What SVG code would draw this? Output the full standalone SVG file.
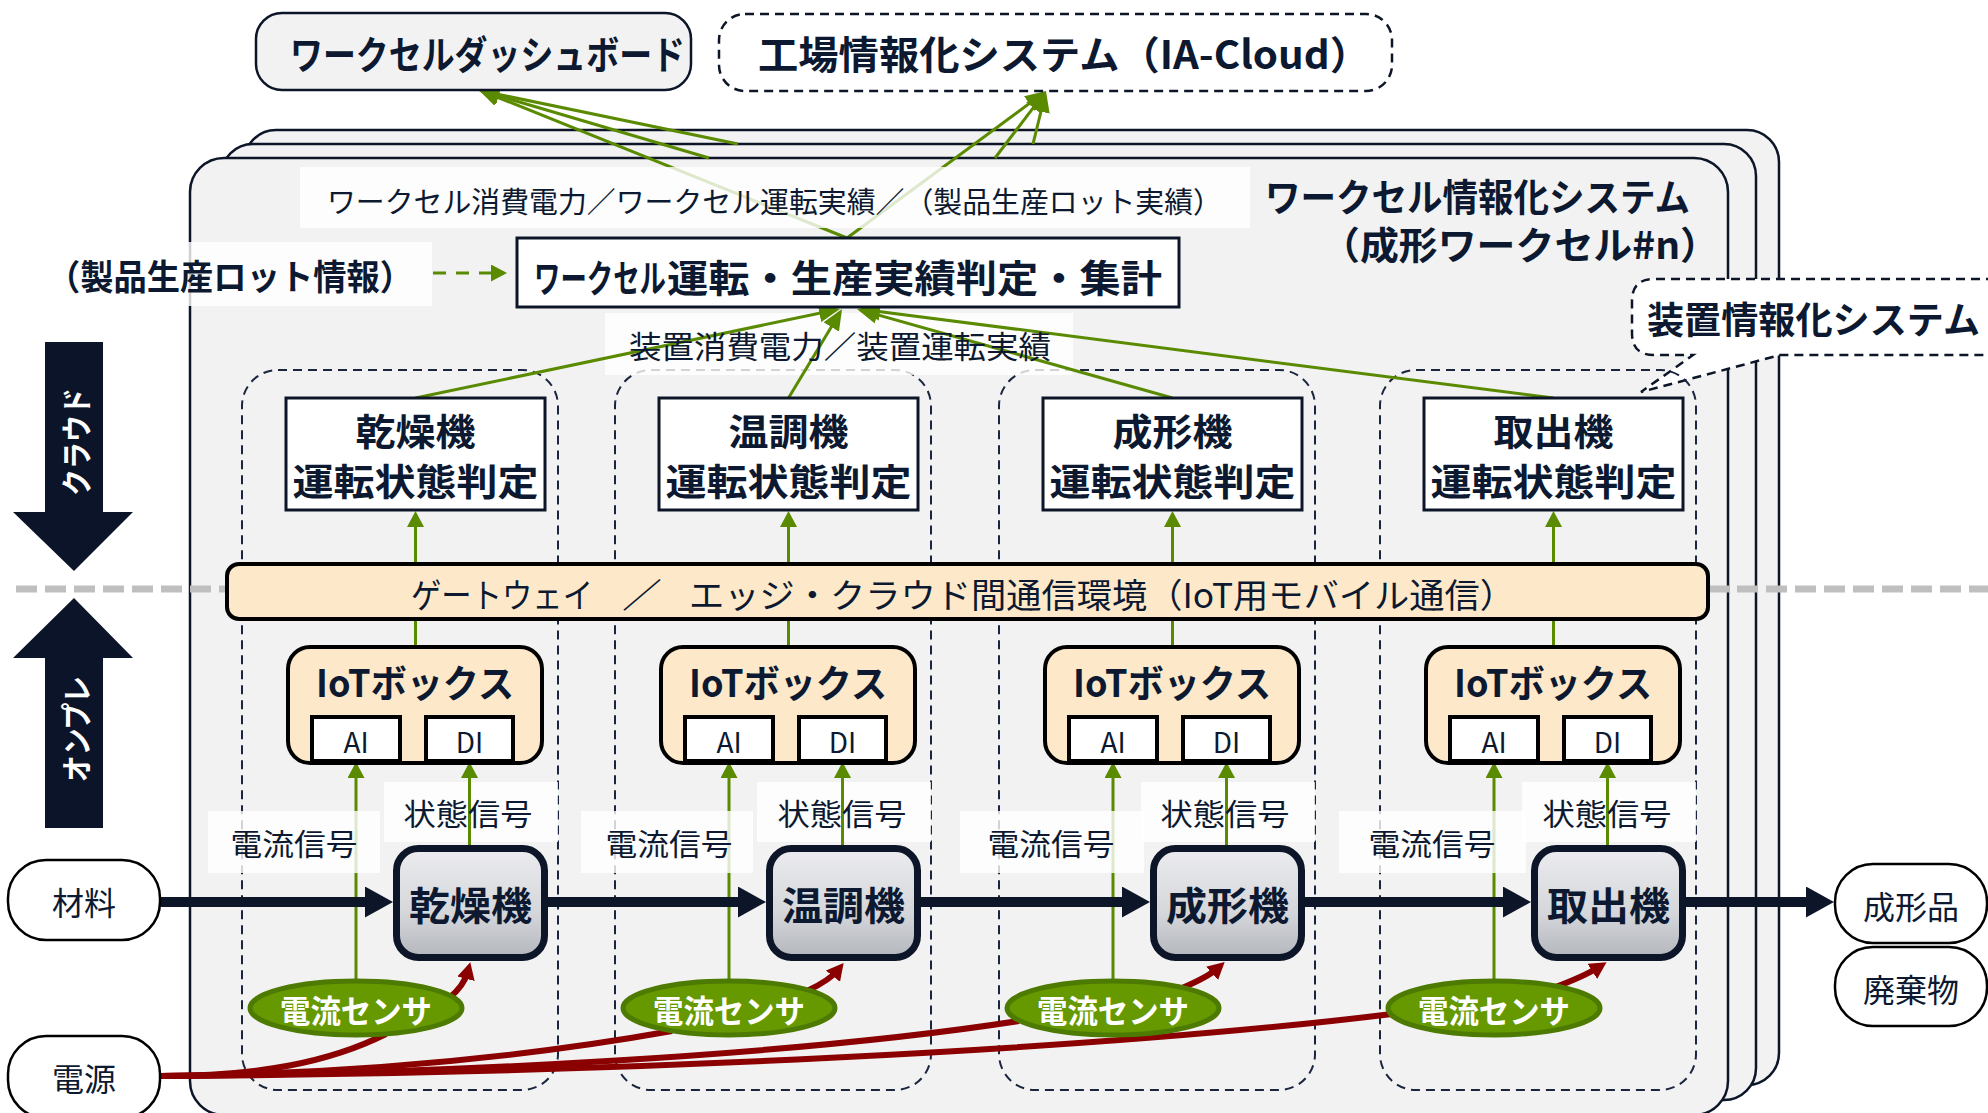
<svg xmlns="http://www.w3.org/2000/svg" width="1988" height="1113" viewBox="0 0 1988 1113">
<defs>
<style>
text{font-family:"Noto Sans CJK JP","Noto Sans",sans-serif;fill:#0c1930;text-anchor:middle;dominant-baseline:central}
.s{text-anchor:start}
.b{font-weight:700}
.panel{fill:#f2f2f2;stroke:#0c1628;stroke-width:2.5}
.grp{fill:none;stroke:#1a2540;stroke-width:2;stroke-dasharray:9 6}
.judge{fill:#fff;stroke:#0c1628;stroke-width:3}
.iot{fill:#fde9c9;stroke:#000;stroke-width:4}
.port{fill:#fff;stroke:#000;stroke-width:4}
.mach{fill:url(#gm);stroke:#0c1628;stroke-width:7}
.sens{fill:#669900;stroke:#4d7a00;stroke-width:5}
.pill{fill:#fff;stroke:#000;stroke-width:2.5}
.lbg{fill:#fff;opacity:.8}
.g{fill:none;stroke:#5a8a00;stroke-width:3}
.r{fill:none;stroke:#8b0000;stroke-width:6}
.f{fill:none;stroke:#0c1628;stroke-width:10}
.w{fill:#fff}
.div{stroke:#bfbfbf;stroke-width:7;stroke-dasharray:21 8}
</style>
<linearGradient id="gm" x1="0" y1="0" x2="0" y2="1">
<stop offset="0" stop-color="#ececf0"/><stop offset="0.6" stop-color="#d4d6da"/><stop offset="1" stop-color="#b3b6bc"/>
</linearGradient>
<marker id="aG" markerUnits="userSpaceOnUse" markerWidth="22" markerHeight="18" refX="17" refY="9" orient="auto"><path d="M0,0 L21,9 L0,18 z" fill="#5a8a00"/></marker>
<marker id="aGs" markerUnits="userSpaceOnUse" markerWidth="17" markerHeight="17" refX="13" refY="8.5" orient="auto"><path d="M0,0 L16,8.5 L0,17 z" fill="#5a8a00"/></marker>
<marker id="aR" markerUnits="userSpaceOnUse" markerWidth="18" markerHeight="18" refX="8" refY="9" orient="auto"><path d="M0,0 L17,9 L0,18 z" fill="#8b0000"/></marker>
<marker id="aF" markerUnits="userSpaceOnUse" markerWidth="29" markerHeight="31" refX="0" refY="15.5" orient="auto"><path d="M0,0 L28,15.5 L0,31 z" fill="#0c1628"/></marker>
</defs>
<rect width="1988" height="1113" fill="#fff"/>

<g id="panels">
<rect class="panel" x="244" y="130" width="1535" height="955" rx="32"/>
<rect class="panel" x="221" y="144" width="1535" height="956" rx="32"/>
<rect class="panel" x="190" y="158" width="1538" height="957" rx="34"/>
</g>

<g id="device-system-callout">
<path d="M1995,279 H1654 Q1632,279 1632,301 V333 Q1632,355 1654,355 H1693 L1641,392 L1780,355 H1995" fill="#fff" stroke="#0c1628" stroke-width="2.5" stroke-dasharray="9 6"/>
<text class="s b" x="1647" y="318" font-size="37" textLength="333" lengthAdjust="spacingAndGlyphs">装置情報化システム</text>
</g>

<g id="divider">
<line class="div" x1="16" y1="589" x2="228" y2="589"/>
<line class="div" x1="1708" y1="589" x2="1988" y2="589"/>
</g>

<g id="cloud-arrow">
<path d="M45,342 H103 V512 H133 L74,571 L13,512 H45 Z" fill="#0b1428"/>
<text class="b w" transform="translate(74,442) rotate(-90)" font-size="31" textLength="108" lengthAdjust="spacingAndGlyphs">クラウド</text>
</g>
<g id="onprem-arrow">
<path d="M74,598 L133,658 H103 V828 H45 V658 H13 Z" fill="#0b1428"/>
<text class="b w" transform="translate(74,729) rotate(-90)" font-size="31" textLength="106" lengthAdjust="spacingAndGlyphs">オンプレ</text>
</g>

<g id="group-dryer"><rect class="grp" x="242" y="370" width="316" height="720" rx="36"/></g>
<g id="group-temp" transform="translate(373,0)"><rect class="grp" x="242" y="370" width="316" height="720" rx="36"/></g>
<g id="group-mold" transform="translate(757,0)"><rect class="grp" x="242" y="370" width="316" height="720" rx="36"/></g>
<g id="group-pick" transform="translate(1138,0)"><rect class="grp" x="242" y="370" width="316" height="720" rx="36"/></g>

<g id="label-bgs-under">
<rect class="lbg" x="605" y="313" width="468" height="62"/>
<rect class="lbg" x="384" y="782" width="174" height="60"/>
<rect class="lbg" x="757" y="782" width="174" height="60"/>
<rect class="lbg" x="1141" y="782" width="174" height="60"/>
<rect class="lbg" x="1522" y="782" width="174" height="60"/>
</g>

<g id="connectors">
<line class="g" x1="847" y1="238" x2="482" y2="91" marker-end="url(#aG)"/>
<line class="g" x1="709" y1="158" x2="482" y2="91" marker-end="url(#aG)"/>
<line class="g" x1="738" y1="144" x2="482" y2="91" marker-end="url(#aG)"/>
<line class="g" x1="847" y1="238" x2="1043" y2="93.4" marker-end="url(#aG)"/>
<line class="g" x1="995" y1="158" x2="1043.6" y2="94.2" marker-end="url(#aG)"/>
<line class="g" x1="1033" y1="144" x2="1045" y2="95" marker-end="url(#aG)"/>
<line class="g" x1="433" y1="273" x2="503" y2="273" stroke-dasharray="13 10"/>
<line class="g" x1="503" y1="273" x2="504" y2="273" marker-end="url(#aGs)"/>
<line class="g" x1="415.5" y1="398" x2="836" y2="309.8" marker-end="url(#aG)"/>
<line class="g" x1="788.5" y1="398" x2="840" y2="312.4" marker-end="url(#aG)"/>
<line class="g" x1="1172.5" y1="398" x2="860.8" y2="310.1" marker-end="url(#aG)"/>
<line class="g" x1="1553.5" y1="398" x2="863" y2="309.5" marker-end="url(#aG)"/>
<g id="conn-dryer">
<line class="g" x1="415.5" y1="563" x2="415.5" y2="514" marker-end="url(#aGs)"/>
<line class="g" x1="415.5" y1="619" x2="415.5" y2="647"/>
<line class="g" x1="356" y1="981" x2="356" y2="765" marker-end="url(#aGs)"/>
<line class="g" x1="469.5" y1="845" x2="469.5" y2="765" marker-end="url(#aGs)"/>
</g>
<g id="conn-temp" transform="translate(373,0)">
<line class="g" x1="415.5" y1="563" x2="415.5" y2="514" marker-end="url(#aGs)"/>
<line class="g" x1="415.5" y1="619" x2="415.5" y2="647"/>
<line class="g" x1="356" y1="981" x2="356" y2="765" marker-end="url(#aGs)"/>
<line class="g" x1="469.5" y1="845" x2="469.5" y2="765" marker-end="url(#aGs)"/>
</g>
<g id="conn-mold" transform="translate(757,0)">
<line class="g" x1="415.5" y1="563" x2="415.5" y2="514" marker-end="url(#aGs)"/>
<line class="g" x1="415.5" y1="619" x2="415.5" y2="647"/>
<line class="g" x1="356" y1="981" x2="356" y2="765" marker-end="url(#aGs)"/>
<line class="g" x1="469.5" y1="845" x2="469.5" y2="765" marker-end="url(#aGs)"/>
</g>
<g id="conn-pick" transform="translate(1138,0)">
<line class="g" x1="415.5" y1="563" x2="415.5" y2="514" marker-end="url(#aGs)"/>
<line class="g" x1="415.5" y1="619" x2="415.5" y2="647"/>
<line class="g" x1="356" y1="981" x2="356" y2="765" marker-end="url(#aGs)"/>
<line class="g" x1="469.5" y1="845" x2="469.5" y2="765" marker-end="url(#aGs)"/>
</g>
<path class="r" d="M160,1076 C260,1076 330,1062 386,1034"/>
<path class="r" d="M160,1076 C350,1074 520,1058 672,1031"/>
<path class="r" d="M160,1076 C450,1074 800,1055 1019,1021"/>
<path class="r" d="M160,1076 C600,1074 1100,1050 1392,1014"/>
<path class="r" d="M449,998 Q464,986 468,971" marker-end="url(#aR)"/>
<path class="r" d="M807,991 Q830,980 838,970" marker-end="url(#aR)"/>
<path class="r" d="M1182,988 Q1208,977 1218,968" marker-end="url(#aR)"/>
<path class="r" d="M1553,988 Q1585,976 1599,967" marker-end="url(#aR)"/>
<path class="f" d="M160,902 H365" marker-end="url(#aF)"/>
<path class="f" d="M548,902 H738" marker-end="url(#aF)"/>
<path class="f" d="M921,902 H1122" marker-end="url(#aF)"/>
<path class="f" d="M1305,902 H1503" marker-end="url(#aF)"/>
<path class="f" d="M1686,902 H1806" marker-end="url(#aF)"/>
</g>

<g id="label-bgs-over">
<rect class="lbg" x="300" y="167" width="950" height="61"/>
<rect class="lbg" x="40" y="242" width="392" height="64"/>
<rect class="lbg" x="208" y="811" width="172" height="62"/>
<rect class="lbg" x="581" y="811" width="172" height="62"/>
<rect class="lbg" x="960" y="811" width="184" height="62"/>
<rect class="lbg" x="1339" y="811" width="187" height="62"/>
</g>

<g id="dashboard">
<rect x="256" y="13" width="435" height="77" rx="26" fill="#f2f2f2" stroke="#0c1628" stroke-width="2.5"/>
<text class="b" x="487.5" y="52" font-size="39" textLength="395" lengthAdjust="spacingAndGlyphs">ワークセルダッシュボード</text>
</g>
<g id="factory-cloud">
<rect x="719" y="14" width="673" height="77" rx="26" fill="#fff" stroke="#0c1628" stroke-width="2.5" stroke-dasharray="9 6"/>
<text class="b" x="1064" y="52" font-size="39" textLength="612" lengthAdjust="spacingAndGlyphs">工場情報化システム（IA-Cloud）</text>
</g>

<g id="workcell-title">
<text class="s b" x="1265" y="194" font-size="38" textLength="425" lengthAdjust="spacingAndGlyphs">ワークセル情報化システム</text>
<text class="s b" x="1321" y="242" font-size="38" textLength="398" lengthAdjust="spacingAndGlyphs">（成形ワークセル#n）</text>
</g>
<g id="workcell-output-label">
<text class="s" x="327" y="200" font-size="29" textLength="895" lengthAdjust="spacingAndGlyphs">ワークセル消費電力／ワークセル運転実績／（製品生産ロット実績）</text>
</g>
<g id="lot-info">
<text class="s b" x="47" y="274" font-size="35" textLength="366" lengthAdjust="spacingAndGlyphs">（製品生産ロット情報）</text>
</g>
<g id="aggregation">
<rect x="517" y="238" width="662" height="69" fill="#fff" stroke="#0c1628" stroke-width="3"/>
<text class="s b" font-size="38" y="275"><tspan x="534" textLength="132" lengthAdjust="spacingAndGlyphs">ワークセル</tspan><tspan x="667" textLength="495" lengthAdjust="spacingAndGlyphs">運転・生産実績判定・集計</tspan></text>
</g>
<g id="device-output-label">
<text class="s" x="629" y="344" font-size="31" textLength="422" lengthAdjust="spacingAndGlyphs">装置消費電力／装置運転実績</text>
</g>

<g id="judge-dryer"><rect class="judge" x="286" y="398" width="259" height="112"/><text class="b" x="415.5" y="430" font-size="37" textLength="120" lengthAdjust="spacingAndGlyphs">乾燥機</text><text class="b" x="415.5" y="480" font-size="37" textLength="246" lengthAdjust="spacingAndGlyphs">運転状態判定</text></g>
<g id="judge-temp" transform="translate(373,0)"><rect class="judge" x="286" y="398" width="259" height="112"/><text class="b" x="415.5" y="430" font-size="37" textLength="120" lengthAdjust="spacingAndGlyphs">温調機</text><text class="b" x="415.5" y="480" font-size="37" textLength="246" lengthAdjust="spacingAndGlyphs">運転状態判定</text></g>
<g id="judge-mold" transform="translate(757,0)"><rect class="judge" x="286" y="398" width="259" height="112"/><text class="b" x="415.5" y="430" font-size="37" textLength="120" lengthAdjust="spacingAndGlyphs">成形機</text><text class="b" x="415.5" y="480" font-size="37" textLength="246" lengthAdjust="spacingAndGlyphs">運転状態判定</text></g>
<g id="judge-pick" transform="translate(1138,0)"><rect class="judge" x="286" y="398" width="259" height="112"/><text class="b" x="415.5" y="430" font-size="37" textLength="120" lengthAdjust="spacingAndGlyphs">取出機</text><text class="b" x="415.5" y="480" font-size="37" textLength="246" lengthAdjust="spacingAndGlyphs">運転状態判定</text></g>

<g id="gateway">
<rect x="227" y="564" width="1481" height="55" rx="12" fill="#fde9c9" stroke="#000" stroke-width="4"/>
<text class="s" font-size="34" y="593"><tspan x="411" textLength="182" lengthAdjust="spacingAndGlyphs">ゲートウェイ</tspan><tspan x="622" textLength="40" lengthAdjust="spacingAndGlyphs">／</tspan><tspan x="689" textLength="826" lengthAdjust="spacingAndGlyphs">エッジ・クラウド間通信環境（IoT用モバイル通信）</tspan></text>
</g>

<g id="iot-dryer"><rect class="iot" x="288" y="647" width="254" height="116" rx="22"/><text class="b" x="415" y="680" font-size="38" textLength="198" lengthAdjust="spacingAndGlyphs">IoTボックス</text><rect class="port" x="312" y="717" width="88" height="44"/><rect class="port" x="426" y="717" width="87" height="44"/><text x="356" y="741" font-size="28">AI</text><text x="469.5" y="741" font-size="28">DI</text></g>
<g id="iot-temp" transform="translate(373,0)"><rect class="iot" x="288" y="647" width="254" height="116" rx="22"/><text class="b" x="415" y="680" font-size="38" textLength="198" lengthAdjust="spacingAndGlyphs">IoTボックス</text><rect class="port" x="312" y="717" width="88" height="44"/><rect class="port" x="426" y="717" width="87" height="44"/><text x="356" y="741" font-size="28">AI</text><text x="469.5" y="741" font-size="28">DI</text></g>
<g id="iot-mold" transform="translate(757,0)"><rect class="iot" x="288" y="647" width="254" height="116" rx="22"/><text class="b" x="415" y="680" font-size="38" textLength="198" lengthAdjust="spacingAndGlyphs">IoTボックス</text><rect class="port" x="312" y="717" width="88" height="44"/><rect class="port" x="426" y="717" width="87" height="44"/><text x="356" y="741" font-size="28">AI</text><text x="469.5" y="741" font-size="28">DI</text></g>
<g id="iot-pick" transform="translate(1138,0)"><rect class="iot" x="288" y="647" width="254" height="116" rx="22"/><text class="b" x="415" y="680" font-size="38" textLength="198" lengthAdjust="spacingAndGlyphs">IoTボックス</text><rect class="port" x="312" y="717" width="88" height="44"/><rect class="port" x="426" y="717" width="87" height="44"/><text x="356" y="741" font-size="28">AI</text><text x="469.5" y="741" font-size="28">DI</text></g>

<g id="signal-labels">
<text x="294" y="842" font-size="30" textLength="127" lengthAdjust="spacingAndGlyphs">電流信号</text>
<text x="468" y="812" font-size="30" textLength="129" lengthAdjust="spacingAndGlyphs">状態信号</text>
<text x="669" y="842" font-size="30" textLength="127" lengthAdjust="spacingAndGlyphs">電流信号</text>
<text x="842" y="812" font-size="30" textLength="129" lengthAdjust="spacingAndGlyphs">状態信号</text>
<text x="1051" y="842" font-size="30" textLength="127" lengthAdjust="spacingAndGlyphs">電流信号</text>
<text x="1225" y="812" font-size="30" textLength="129" lengthAdjust="spacingAndGlyphs">状態信号</text>
<text x="1432" y="842" font-size="30" textLength="127" lengthAdjust="spacingAndGlyphs">電流信号</text>
<text x="1607" y="812" font-size="30" textLength="129" lengthAdjust="spacingAndGlyphs">状態信号</text>
</g>

<g id="machine-dryer"><rect class="mach" x="396.5" y="848.5" width="148" height="109" rx="22"/><text class="b" x="470.5" y="903" font-size="39" textLength="123" lengthAdjust="spacingAndGlyphs">乾燥機</text></g>
<g id="machine-temp" transform="translate(373,0)"><rect class="mach" x="396.5" y="848.5" width="148" height="109" rx="22"/><text class="b" x="470.5" y="903" font-size="39" textLength="123" lengthAdjust="spacingAndGlyphs">温調機</text></g>
<g id="machine-mold" transform="translate(757,0)"><rect class="mach" x="396.5" y="848.5" width="148" height="109" rx="22"/><text class="b" x="470.5" y="903" font-size="39" textLength="123" lengthAdjust="spacingAndGlyphs">成形機</text></g>
<g id="machine-pick" transform="translate(1138,0)"><rect class="mach" x="396.5" y="848.5" width="148" height="109" rx="22"/><text class="b" x="470.5" y="903" font-size="39" textLength="123" lengthAdjust="spacingAndGlyphs">取出機</text></g>

<g id="sensor-dryer"><ellipse class="sens" cx="356" cy="1008" rx="106" ry="27"/><text class="b w" x="356" y="1009" font-size="32" textLength="152" lengthAdjust="spacingAndGlyphs">電流センサ</text></g>
<g id="sensor-temp" transform="translate(373,0)"><ellipse class="sens" cx="356" cy="1008" rx="106" ry="27"/><text class="b w" x="356" y="1009" font-size="32" textLength="152" lengthAdjust="spacingAndGlyphs">電流センサ</text></g>
<g id="sensor-mold" transform="translate(757,0)"><ellipse class="sens" cx="356" cy="1008" rx="106" ry="27"/><text class="b w" x="356" y="1009" font-size="32" textLength="152" lengthAdjust="spacingAndGlyphs">電流センサ</text></g>
<g id="sensor-pick" transform="translate(1138,0)"><ellipse class="sens" cx="356" cy="1008" rx="106" ry="27"/><text class="b w" x="356" y="1009" font-size="32" textLength="152" lengthAdjust="spacingAndGlyphs">電流センサ</text></g>

<g id="material"><rect class="pill" x="8" y="860" width="152" height="80" rx="38"/><text x="84" y="901" font-size="32">材料</text></g>
<g id="power"><rect class="pill" x="8" y="1036" width="152" height="82" rx="38"/><text x="84" y="1077" font-size="32">電源</text></g>
<g id="product"><rect class="pill" x="1835" y="864" width="152" height="79" rx="38"/><text x="1911" y="905" font-size="32">成形品</text></g>
<g id="waste"><rect class="pill" x="1835" y="947" width="152" height="79" rx="38"/><text x="1911" y="988" font-size="32">廃棄物</text></g>
</svg>
